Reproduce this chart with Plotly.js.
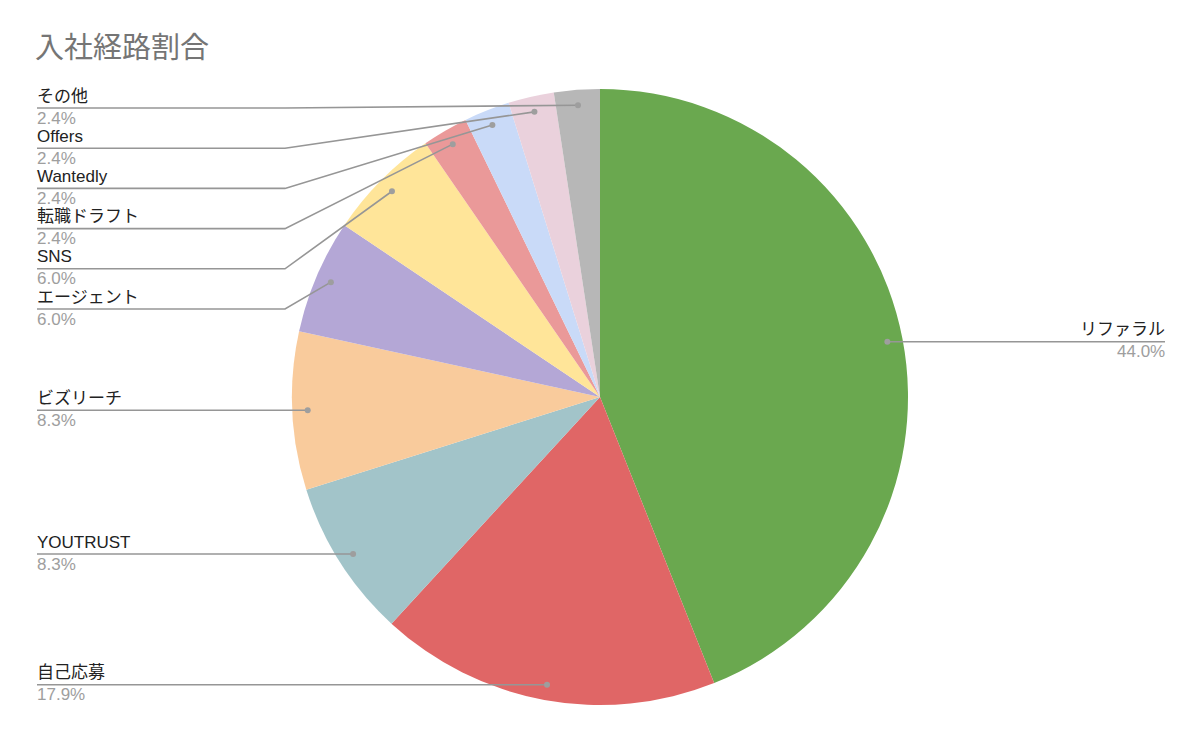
<!DOCTYPE html>
<html>
<head>
<meta charset="utf-8">
<script src="https://cdn.plot.ly/plotly-3.0.1.min.js"></script>
<style>html,body{margin:0;padding:0;background:#fff;}#chart{width:1200px;height:740px;}</style>
</head>
<body>
<div id="chart"></div>
<script>
// ---- data ----
var categories = ["リファラル", "自己応募", "YOUTRUST", "ビズリーチ", "エージェント", "SNS", "転職ドラフト", "Wantedly", "Offers", "その他"];
var shares = [44.0, 17.9, 8.3, 8.3, 6.0, 6.0, 2.4, 2.4, 2.4, 2.4];
var sliceColors = ["#6aa84f", "#e06666", "#a2c4c9", "#f9cb9c", "#b4a7d6", "#ffe599", "#ea9999", "#c9daf8", "#ead1dc", "#b7b7b7"];
var chartTitle = "入社経路割合";

// ---- layout constants ----
var W = 1200, H = 740;
var CX = 600, CY = 397, R = 308;
var DOT_R = 0.95;
var LEFT_X = 37, BEND_X = 285, RIGHT_X = 1165, GAP = 40.2, TOP_MIN = 108;
var FONT = "Liberation Sans, Arial, 'Noto Sans CJK JP', sans-serif";
var LINE_COL = "#969696";

var total = shares.reduce(function (a, b) { return a + b; }, 0);

// mid angles (clockwise from 12 o'clock)
var cum = 0, items = [];
for (var i = 0; i < shares.length; i++) {
  var mid = (cum + shares[i] / 2) / total * 2 * Math.PI;
  cum += shares[i];
  items.push({
    i: i,
    dx: CX + DOT_R * R * Math.sin(mid),
    dy: CY - DOT_R * R * Math.cos(mid),
    right: Math.sin(mid) > 0
  });
}

function placeSide(list) {
  list.sort(function (a, b) { return a.dy - b.dy; });
  var prev = -1e9;
  list.forEach(function (it) {
    var y = Math.max(it.dy, prev + GAP, TOP_MIN);
    it.ly = y; prev = y;
  });
}
var leftItems = items.filter(function (d) { return !d.right; });
var rightItems = items.filter(function (d) { return d.right; });
placeSide(leftItems); placeSide(rightItems);

var traces = [{
  type: "pie",
  values: shares,
  labels: categories,
  marker: { colors: sliceColors, line: { width: 0 } },
  sort: false,
  direction: "clockwise",
  rotation: 0,
  textinfo: "none",
  hoverinfo: "label+percent",
  showlegend: false,
  domain: { x: [(CX - R) / W, (CX + R) / W], y: [1 - (CY + R) / H, 1 - (CY - R) / H] }
}];

var annotations = [], shapes = [];
var dotx = [], doty = [];
items.forEach(function (it) {
  var pct = (shares[it.i] / total * 100).toFixed(1) + "%";
  var path;
  if (it.right) {
    path = "M" + it.dx + "," + it.dy + " L" + RIGHT_X + "," + it.ly;
  } else {
    path = "M" + LEFT_X + "," + it.ly + " L" + BEND_X + "," + it.ly + " L" + it.dx + "," + it.dy;
  }
  shapes.push({ type: "path", xref: "x", yref: "y", path: path, layer: "above",
    line: { color: LINE_COL, width: 1.6 } });
  shapes.push({ type: "circle", xref: "x", yref: "y", layer: "above",
    x0: it.dx - 3, x1: it.dx + 3, y0: it.dy - 3, y1: it.dy + 3,
    fillcolor: "#9e9e9e", line: { width: 0 } });
  dotx.push(it.dx); doty.push(it.dy);
  var ax = it.right ? RIGHT_X + 2 : LEFT_X - 2, anc = it.right ? "right" : "left";
  annotations.push({
    xref: "x", yref: "y", x: ax, y: it.ly - 12, xanchor: anc, yanchor: "middle",
    text: categories[it.i], showarrow: false,
    font: { family: FONT, size: 17, color: "#222222" }
  });
  annotations.push({
    xref: "x", yref: "y", x: ax, y: it.ly + 10, xanchor: anc, yanchor: "middle",
    text: pct, showarrow: false,
    font: { family: FONT, size: 17, color: "#9e9e9e" }
  });
});

// invisible anchor trace so the pixel-scaled axes exist
traces.push({
  type: "scatter", mode: "markers", x: dotx, y: doty, hoverinfo: "skip", showlegend: false,
  marker: { color: "#9e9e9e", size: 1, opacity: 0 }
});

var layout = {
  width: W, height: H,
  margin: { l: 0, r: 0, t: 0, b: 0 },
  paper_bgcolor: "#ffffff", plot_bgcolor: "rgba(0,0,0,0)",
  showlegend: false,
  title: {
    text: chartTitle, x: (LEFT_X - 2) / W, xanchor: "left", xref: "paper",
    y: 1 - 48 / H, yanchor: "middle", yref: "paper",
    font: { family: "'Noto Sans CJK JP', sans-serif", size: 29, color: "#757575" }
  },
  xaxis: { range: [0, W], visible: false, fixedrange: true, domain: [0, 1] },
  yaxis: { range: [H, 0], visible: false, fixedrange: true, domain: [0, 1] },
  annotations: annotations,
  shapes: shapes
};

Plotly.newPlot("chart", traces, layout, { displayModeBar: false, staticPlot: true });
</script>
</body>
</html>
